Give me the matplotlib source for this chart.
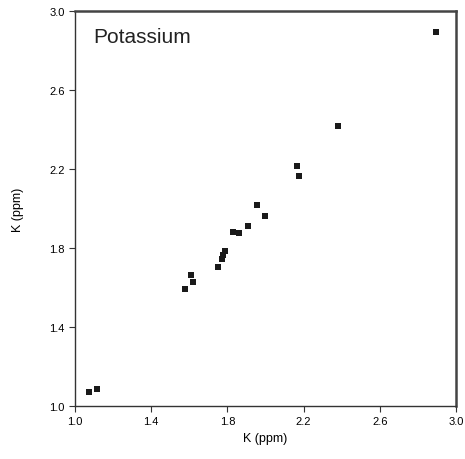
import matplotlib
matplotlib.use("Agg")
import matplotlib.pyplot as plt

# K (ppm) の比較データ
k_x = [1.073, 1.115, 1.579, 1.611, 1.621, 1.752, 1.773, 1.778, 1.790,
       1.831, 1.862, 1.910, 1.958, 2.000, 2.167, 2.177, 2.382, 2.897]
k_y = [1.071, 1.086, 1.591, 1.662, 1.630, 1.702, 1.743, 1.766, 1.783,
       1.880, 1.874, 1.910, 2.016, 1.961, 2.215, 2.163, 2.416, 2.895]

ticks = [1.0, 1.4, 1.8, 2.2, 2.6, 3.0]
tick_labels = ["1.0", "1.4", "1.8", "2.2", "2.6", "3.0"]

plt.rcParams["font.family"] = ["Liberation Sans", "DejaVu Sans"]

fig = plt.figure(figsize=(4.65, 4.6), dpi=100)
ax = fig.add_axes([0.1613, 0.1152, 0.8193, 0.8587])

ax.plot(k_x, k_y, linestyle="none", marker="s", markersize=4.3,
        color="#1a1a1a", markeredgewidth=0)

ax.set_xlim(1.0, 3.0)
ax.set_ylim(1.0, 3.0)
ax.set_xticks(ticks)
ax.set_xticklabels(tick_labels)
ax.set_yticks(ticks)
ax.set_yticklabels(tick_labels)
ax.tick_params(direction="out", length=4, width=0.8, labelsize=8,
               top=False, right=False, color="#333333")

for side in ["left", "bottom"]:
    ax.spines[side].set_linewidth(1.0)
    ax.spines[side].set_color("#333333")
for side in ["top", "right"]:
    ax.spines[side].set_linewidth(1.8)
    ax.spines[side].set_color("#444444")

ax.set_xlabel("K (ppm)", fontsize=9, labelpad=4)
ax.set_ylabel("K (ppm)", fontsize=9, labelpad=18)
ax.text(0.047, 0.96, "Potassium", transform=ax.transAxes, fontsize=15,
        va="top", ha="left", color="#222222")

fig.savefig("out.png", dpi=100)
